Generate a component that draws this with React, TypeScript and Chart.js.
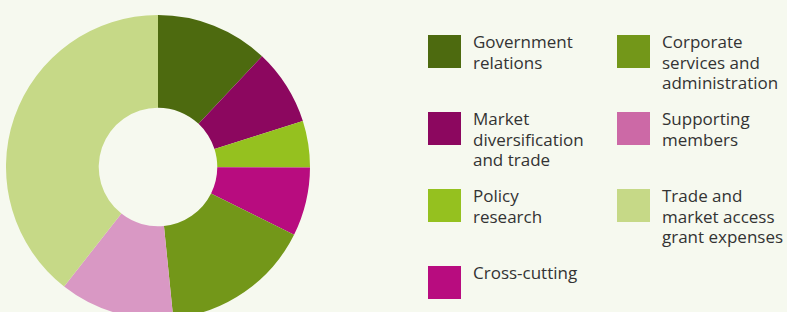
import React, { useEffect, useRef } from "react";
import { Chart, registerables } from "chart.js";

Chart.register(...registerables);

const categories = [
  "Government relations",
  "Market diversification and trade",
  "Policy research",
  "Cross-cutting",
  "Corporate services and administration",
  "Supporting members",
  "Trade and market access grant expenses",
];
const legendLines = [
  ["Government", "relations"],
  ["Market", "diversification", "and trade"],
  ["Policy", "research"],
  ["Cross-cutting"],
  ["Corporate", "services and", "administration"],
  ["Supporting", "members"],
  ["Trade and", "market access", "grant expenses"],
];
const values = [12.0, 8.1, 4.95, 7.3, 16.05, 12.2, 39.4];
const sliceColors = ["#4d6a0f", "#8c075f", "#95c11f", "#b80c7f", "#739719", "#d998c4", "#c6d987"];
const legendColors = ["#4d6a0f", "#8c075f", "#95c11f", "#b80c7f", "#739719", "#cc69a6", "#c6d987"];

export default function App() {
  const ref = useRef<HTMLCanvasElement | null>(null);
  useEffect(() => {
    if (!ref.current) return;
    const chart = new Chart(ref.current, {
      type: "doughnut",
      data: {
        labels: categories,
        datasets: [
          {
            data: values,
            backgroundColor: sliceColors,
            borderWidth: 0,
          },
        ],
      },
      options: {
        animation: false,
        responsive: false,
        cutout: "39%",
        layout: { padding: 0 },
        plugins: { legend: { display: false }, tooltip: { enabled: false } },
      },
    });
    return () => chart.destroy();
  }, []);

  return (
    <div
      style={{
        position: "fixed",
        left: 0,
        top: 0,
        width: 787,
        height: 312,
        background: "#f6f9ef",
        overflow: "hidden",
        fontFamily: "'Open Sans', sans-serif",
      }}
    >
      <div style={{ position: "absolute", left: 6, top: 15, width: 304, height: 304 }}>
        <canvas ref={ref} width={304} height={304} style={{ width: 304, height: 304, display: "block" }} />
      </div>
      {categories.map((c, i) => {
        const col = i < 4 ? 0 : 1;
        const row = i < 4 ? i : i - 4;
        const left = col === 0 ? 428 : 617;
        const top = 35 + row * 77;
        return (
          <div key={c} style={{ position: "absolute", left, top, display: "flex" }}>
            <div style={{ width: 33, height: 33, background: legendColors[i], flex: "none" }} />
            <div
              style={{
                marginLeft: 12,
                marginTop: -3,
                fontSize: 17,
                lineHeight: "20.5px",
                color: "#333333",
                whiteSpace: "nowrap",
              }}
            >
              {legendLines[i].map((l, k) => (
                <div key={k}>{l}</div>
              ))}
            </div>
          </div>
        );
      })}
    </div>
  );
}
